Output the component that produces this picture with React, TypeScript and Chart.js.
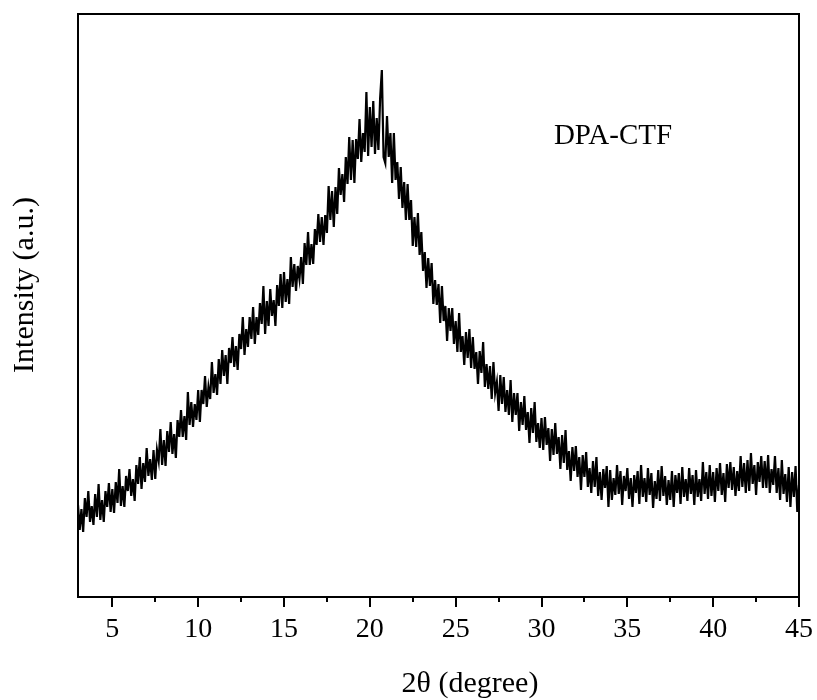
import { useEffect, useRef } from "react";
import { Chart, registerables } from "chart.js";

Chart.register(...registerables);

// 2θ sampling of the pattern (degrees)
const ANGLE_START = 3;
const ANGLE_STEP = 0.1;

// Intensity (arbitrary units), one value per 0.1° from 3.0° to 45.0°
const INTENSITY = [
  // 3.x
  92, 67, 88, 65, 99, 80, 106, 75, 91, 72,
  // 4.x
  103, 80, 113, 77, 97, 75, 106, 90, 114, 85,
  // 5.x
  108, 84, 115, 94, 128, 91, 111, 90, 121, 106,
  // 6.x
  128, 101, 118, 96, 132, 113, 140, 108, 134, 115,
  // 7.x
  149, 121, 138, 117, 147, 118, 147, 136, 168, 132,
  // 8.x
  157, 131, 166, 145, 175, 143, 163, 139, 177, 160,
  // 9.x
  187, 160, 181, 157, 205, 172, 195, 170, 193, 177,
  // 10.x
  207, 175, 207, 193, 221, 190, 210, 198, 235, 204,
  // 11.x
  223, 202, 238, 213, 247, 221, 242, 213, 249, 234,
  // 12.x
  260, 230, 251, 227, 263, 248, 280, 242, 268, 250,
  // 13.x
  280, 258, 290, 253, 280, 262, 294, 273, 311, 263,
  // 14.x
  296, 271, 308, 281, 297, 271, 312, 291, 323, 289,
  // 15.x
  325, 295, 318, 293, 340, 310, 333, 306, 331, 318,
  // 16.x
  340, 313, 354, 332, 365, 332, 353, 333, 368, 352,
  // 17.x
  383, 355, 380, 352, 382, 364, 411, 377, 406, 370,
  // 18.x
  410, 383, 429, 402, 423, 395, 440, 413, 460, 417,
  // 19.x
  457, 414, 458, 438, 478, 435, 464, 445, 505, 441,
  // 20.x
  490, 450, 496, 443, 479, 447, 499, 527, 440, 434,
  // 21.x
  481, 440, 464, 414, 464, 417, 435, 398, 430, 389,
  // 22.x
  415, 377, 413, 377, 397, 351, 380, 350, 384, 342,
  // 23.x
  365, 326, 345, 309, 339, 311, 334, 293, 317, 292,
  // 24.x
  313, 274, 311, 276, 291, 256, 289, 266, 289, 253,
  // 25.x
  276, 245, 284, 245, 261, 232, 265, 239, 268, 229,
  // 26.x
  260, 228, 245, 213, 246, 224, 255, 210, 233, 208,
  // 27.x
  231, 198, 235, 204, 215, 186, 222, 193, 220, 185,
  // 28.x
  207, 182, 217, 175, 204, 182, 204, 166, 195, 172,
  // 29.x
  201, 167, 185, 154, 189, 164, 195, 155, 174, 149,
  // 30.x
  179, 147, 180, 152, 169, 136, 168, 142, 174, 143,
  // 31.x
  160, 128, 162, 134, 167, 127, 146, 116, 150, 126,
  // 32.x
  151, 120, 140, 107, 142, 120, 145, 110, 129, 104,
  // 33.x
  136, 110, 140, 101, 125, 97, 128, 109, 131, 90,
  // 34.x
  127, 97, 119, 102, 132, 103, 126, 92, 121, 106,
  // 35.x
  129, 98, 119, 90, 122, 104, 126, 93, 132, 100,
  // 36.x
  119, 95, 129, 102, 124, 89, 116, 98, 127, 96,
  // 37.x
  131, 101, 121, 92, 117, 97, 126, 90, 122, 104,
  // 38.x
  124, 93, 130, 100, 118, 96, 129, 103, 122, 92,
  // 39.x
  127, 100, 118, 96, 135, 103, 125, 98, 132, 101,
  // 40.x
  125, 95, 129, 106, 134, 102, 124, 95, 133, 109,
  // 41.x
  135, 107, 130, 101, 126, 106, 141, 110, 134, 104,
  // 42.x
  137, 106, 144, 113, 132, 102, 135, 115, 141, 109,
  // 43.x
  136, 109, 142, 104, 128, 112, 141, 104, 129, 97,
  // 44.x
  137, 103, 123, 95, 130, 90, 125, 100, 131, 85,
  // 45.0
  112,
];

const X_MIN = 3;
const X_MAX = 45;
const Y_MIN = 0;
const Y_MAX = 583;

const X_TICKS_MAJOR = [5, 10, 15, 20, 25, 30, 35, 40, 45];
const X_TICKS_MINOR = [7.5, 12.5, 17.5, 22.5, 27.5, 32.5, 37.5, 42.5];

const SAMPLE_LABEL = "DPA-CTF";
const X_TITLE = "2θ (degree)";
const Y_TITLE = "Intensity (a.u.)";

const FONT_FAMILY = '"Liberation Serif", "Times New Roman", serif';

const framePlugin = {
  id: "xrdFrame",
  afterDraw(chart: any) {
    const { ctx, chartArea: a, scales } = chart;
    const xs = scales.x;
    ctx.save();
    ctx.strokeStyle = "#000";
    ctx.lineWidth = 2;
    ctx.strokeRect(a.left, a.top, a.right - a.left, a.bottom - a.top);

    ctx.beginPath();
    X_TICKS_MAJOR.forEach((v) => {
      const px = Math.round(xs.getPixelForValue(v));
      ctx.moveTo(px, a.bottom);
      ctx.lineTo(px, a.bottom + 10);
    });
    X_TICKS_MINOR.forEach((v) => {
      const px = Math.round(xs.getPixelForValue(v));
      ctx.moveTo(px, a.bottom);
      ctx.lineTo(px, a.bottom + 5);
    });
    ctx.stroke();

    ctx.fillStyle = "#000";
    ctx.textAlign = "center";
    ctx.textBaseline = "middle";

    ctx.font = `29px ${FONT_FAMILY}`;
    ctx.fillText(SAMPLE_LABEL, 613, 136);

    ctx.font = `30px ${FONT_FAMILY}`;
    ctx.fillText(X_TITLE, 470, 684);

    ctx.save();
    ctx.translate(25, 285);
    ctx.rotate(-Math.PI / 2);
    ctx.fillText(Y_TITLE, 0, 0);
    ctx.restore();

    ctx.restore();
  },
};

export default function App() {
  const canvasRef = useRef<HTMLCanvasElement | null>(null);

  useEffect(() => {
    document.body.style.margin = "0";
    const canvas = canvasRef.current;
    if (!canvas) return;
    const points = INTENSITY.map((v, i) => ({
      x: ANGLE_START + i * ANGLE_STEP,
      y: v,
    }));
    const chart = new Chart(canvas, {
      type: "line",
      data: {
        datasets: [
          {
            label: SAMPLE_LABEL,
            data: points,
            borderColor: "#000",
            borderWidth: 2.2,
            pointRadius: 0,
            tension: 0,
            fill: false,
          },
        ],
      },
      options: {
        animation: false,
        responsive: false,
        maintainAspectRatio: false,
        layout: { padding: { top: 14, right: 18, left: 0, bottom: 0 } },
        plugins: {
          legend: { display: false },
          tooltip: { enabled: false },
        },
        scales: {
          x: {
            type: "linear",
            min: X_MIN,
            max: X_MAX,
            grid: { display: false, drawTicks: false },
            border: { display: false },
            afterBuildTicks: (s: any) => {
              s.ticks = X_TICKS_MAJOR.map((v) => ({ value: v }));
            },
            afterFit: (s: any) => {
              s.height = 103;
              s.paddingLeft = 0;
              s.paddingRight = 0;
            },
            ticks: {
              color: "#000",
              padding: 16,
              maxRotation: 0,
              autoSkip: false,
              font: { family: FONT_FAMILY, size: 28 },
            },
          },
          y: {
            type: "linear",
            min: Y_MIN,
            max: Y_MAX,
            grid: { display: false, drawTicks: false },
            border: { display: false },
            ticks: { display: false },
            afterFit: (s: any) => {
              s.width = 78;
            },
          },
        },
      },
      plugins: [framePlugin],
    });
    return () => chart.destroy();
  }, []);

  return (
    <canvas
      ref={canvasRef}
      width={817}
      height={700}
      style={{ display: "block", width: "817px", height: "700px" }}
    />
  );
}
